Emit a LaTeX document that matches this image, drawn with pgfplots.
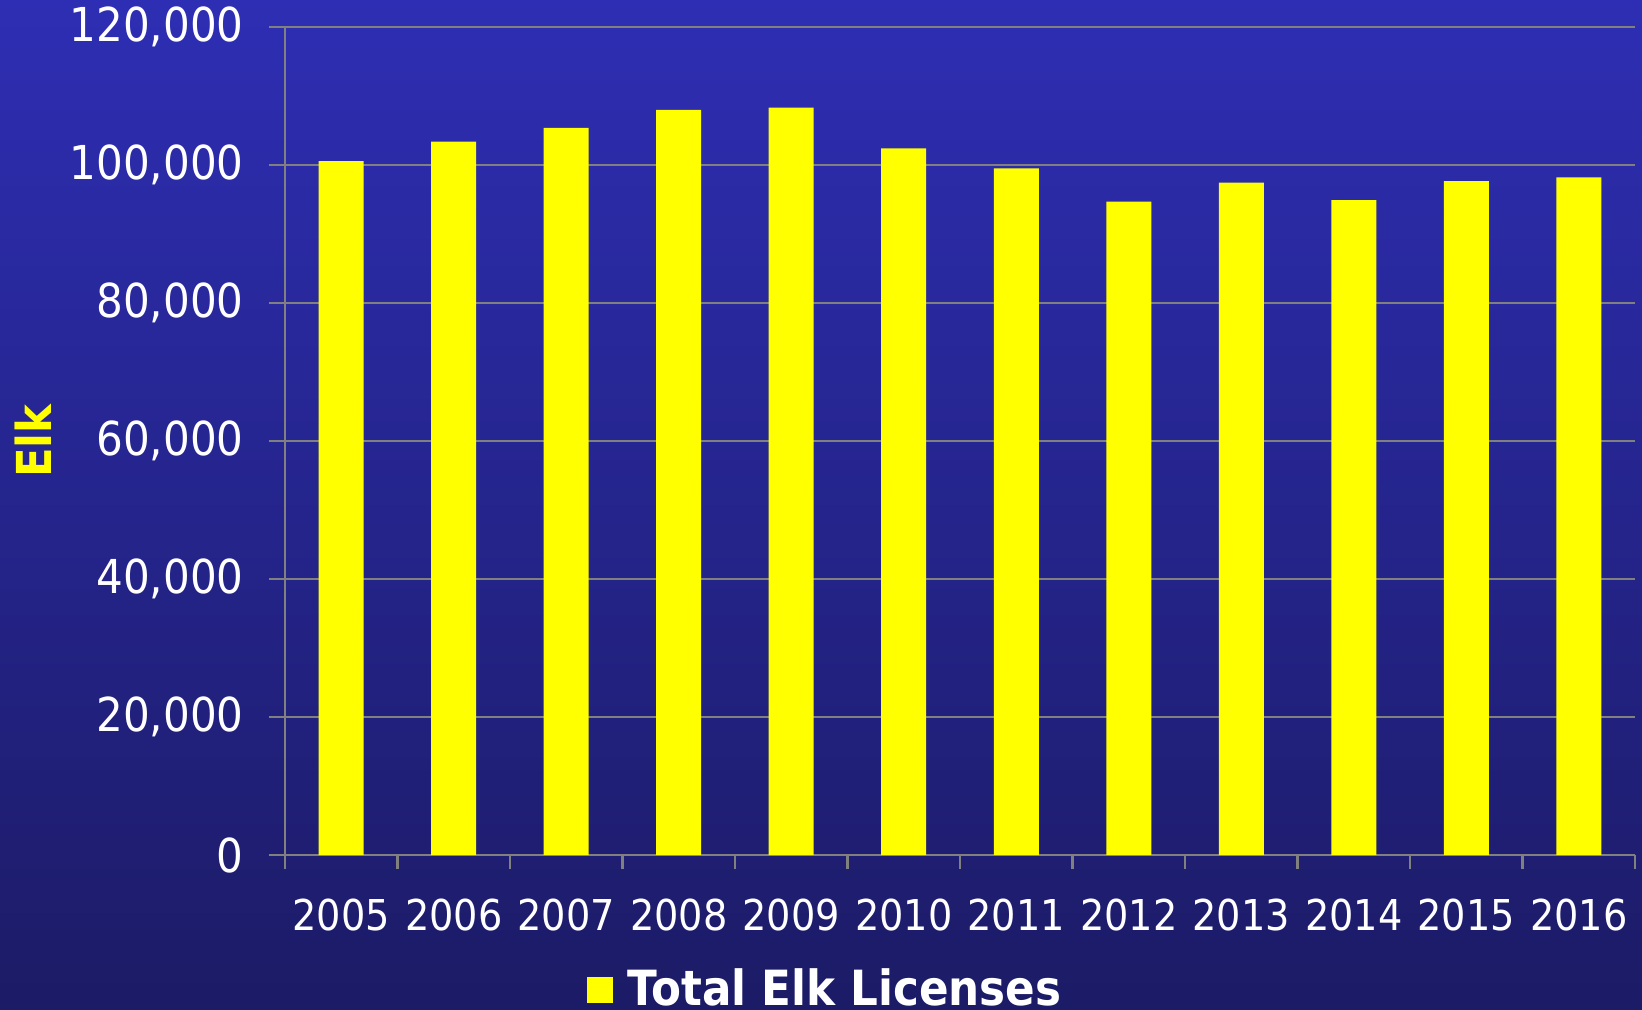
\documentclass[border=0pt]{standalone}
\usepackage{pgfplots}
\pgfplotsset{compat=1.18}
\usepackage{fontspec}
\setmainfont{DejaVu Sans Condensed}

\definecolor{bgtop}{RGB}{46,46,180}
\definecolor{bgbot}{RGB}{28,27,102}
\definecolor{gridgray}{RGB}{128,128,128}
\definecolor{baryellow}{RGB}{255,255,0}

\begin{document}
\begin{tikzpicture}
\shade[top color=bgtop, bottom color=bgbot] (-2.85,-1.54) rectangle (13.57,8.55);
\begin{axis}[
  at={(0,0)}, anchor=south west,
  scale only axis,
  width=13.5cm, height=8.28cm,
  xmin=-0.5, xmax=11.5,
  ymin=0, ymax=120000,
  axis x line=bottom, axis y line=left,
  axis line style={-, gridgray, line width=0.6pt},
  xtick={0,...,11},
  xticklabels={2005,2006,2007,2008,2009,2010,2011,2012,2013,2014,2015,2016},
  major x tick style={draw=none},
  minor xtick={-0.5,0.5,...,11.5},
  minor x tick style={gridgray, line width=0.6pt},
  minor tick length=1.4mm,
  ytick={0,20000,40000,60000,80000,100000,120000},
  yticklabels={0,{20,000},{40,000},{60,000},{80,000},{100,000},{120,000}},
  major tick length=1.6mm,
  tick align=outside,
  y tick style={gridgray, line width=0.6pt},
  ymajorgrids,
  grid style={gridgray, line width=0.6pt},
  scaled y ticks=false,
  yticklabel style={text=white, font=\fontsize{13.3}{15}\selectfont, xshift=-1.3mm},
  xticklabel style={text=white, font=\fontsize{12.1}{14}\selectfont, yshift=-1.6mm},
  ylabel={Elk},
  ylabel style={at={(axis description cs:-0.1867,0.5)}, anchor=center, rotate=0,
    text=baryellow, font=\bfseries\fontsize{13.7}{15}\selectfont},
  legend style={at={(axis description cs:0.402,-0.163)}, anchor=center,
    draw=none, fill=none, text=white, font=\bfseries\fontsize{13.8}{16}\selectfont},
  legend image code/.code={\fill[baryellow] (0cm,-1.3mm) rectangle (2.6mm,1.3mm);},
]
\addplot[ybar, bar width=4.5mm, fill=baryellow, draw=none] coordinates {
  (0,100550) (1,103400) (2,105400) (3,108000) (4,108300) (5,102400)
  (6,99500) (7,94700) (8,97450) (9,94900) (10,97650) (11,98200)
};
\addlegendentry{\hspace{0.8mm}Total Elk Licenses}
\end{axis}
\pgfresetboundingbox
\path[use as bounding box] (-2.85,-1.54) rectangle (13.57,8.55);
\end{tikzpicture}
\end{document}
